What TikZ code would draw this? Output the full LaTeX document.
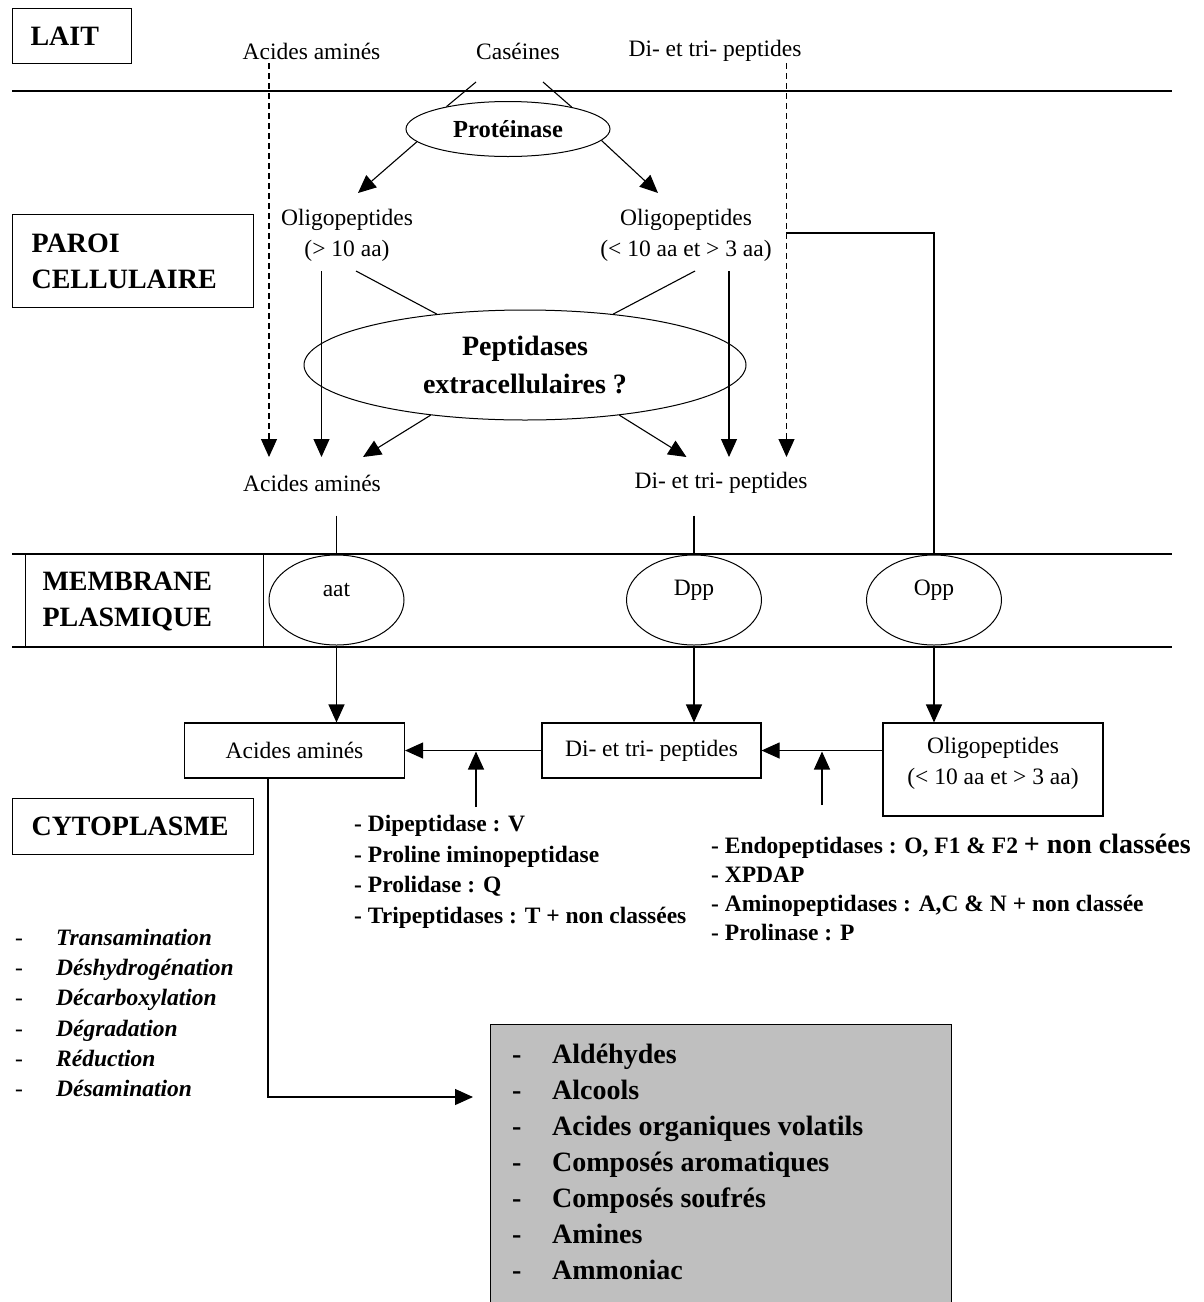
\documentclass[tikz,border=0pt]{standalone}
\usepackage{fontspec}
\setmainfont{Liberation Serif}
\usetikzlibrary{arrows.meta,calc,shapes.geometric}
\colorlet{grisprod}{black!25}
\tikzset{
    trait/.style={line width=1.1pt},
    fl/.style={trait,-{Triangle[length=18pt,width=16pt]}},
    tirets/.style={fl,dash pattern=on 6pt off 4pt},
    etiq/.style={inner sep=0pt,align=center,font=\fontsize{23.5}{31}\selectfont},
    zone/.style={draw,trait,anchor=north west,inner ysep=0pt,align=left,font=\fontsize{28}{36}\selectfont\bfseries},
    enz/.style={draw,ellipse,line width=1pt,inner sep=0pt},
    boite/.style={draw,trait,inner sep=0pt,align=center,font=\fontsize{23.5}{30}\selectfont},
    liste/.style={inner sep=0pt,anchor=north west,align=left}
}

\begin{document}
\begin{tikzpicture}[x=1pt,y=-1pt]
    \useasboundingbox (0,0) rectangle (1203,1302);
    % limites des compartiments
    \draw[trait] (12,91) -- (1172,91);
    \draw[trait] (12,554) -- (1172,554);
    \draw[trait] (12,647) -- (1172,647);

    \node[zone,text width=83pt,inner xsep=18pt,minimum height=55pt] (lait) at (12,8) {LAIT};
    \node[zone,text width=203pt,inner xsep=19pt,minimum height=93pt] (paroi) at (12,214) {PAROI\\CELLULAIRE};
    \node[zone,text width=204pt,inner xsep=17pt,minimum height=93pt] (membr) at (25,554) {MEMBRANE\\PLASMIQUE};
    \node[zone,text width=203pt,inner xsep=19pt,minimum height=56pt] (cyto) at (12,798) {CYTOPLASME};

    % lait
    \node[etiq] (aaTop) at (311.5,51) {Acides aminés};
    \node[etiq] (casTop) at (518,51) {Caséines};
    \node[etiq] (dtTop) at (715,51) {Di- et tri- peptides};

    % paroi
    \node[enz,minimum width=204pt,minimum height=55pt,font=\fontsize{24.5}{28}\selectfont\bfseries] (prot) at (508,129) {Protéinase};
    \node[etiq] (oligoA) at (347,235) {Oligopeptides\\(> 10 aa)};
    \node[etiq] (oligoB) at (686,235) {Oligopeptides\\(< 10 aa et > 3 aa)};
    \node[enz,minimum width=442pt,minimum height=110pt,align=center,font=\fontsize{28}{38}\selectfont\bfseries] (pept) at (525,365) {Peptidases\\extracellulaires ?};
    \node[etiq] (aaMid) at (312,483) {Acides aminés};
    \node[etiq] (dtMid) at (721,483) {Di- et tri- peptides};

    \draw[trait] ($(casTop)+(-42,31)$) -- (prot.160);
    \draw[trait] ($(casTop)+(25,31)$) -- (prot.19);
    \draw[fl] (prot.188) -- ($(oligoA)+(11,-42)$);
    \draw[fl] (prot.353) -- ($(oligoB)+(-28,-42)$);
    \draw[trait] ($(oligoA)+(9,36)$) -- (pept.150);
    \draw[trait] ($(oligoB)+(9,36)$) -- (pept.30);
    \draw[tirets] ($(aaTop)+(-42.5,12)$) -- ($(aaMid)+(-43,-26)$);
    \draw[fl] ($(oligoA)+(-25.5,36)$) -- ($(aaMid)+(9.5,-26)$);
    \draw[fl] (pept.208) -- ($(aaMid)+(51,-26)$);
    \draw[fl] (pept.332) -- ($(dtMid)+(-34.5,-26)$);
    \draw[fl] ($(oligoB)+(43,36)$) -- ($(dtMid)+(8,-26)$);
    \draw[tirets] ($(dtTop)+(71.5,12)$) -- ($(dtMid)+(65.5,-26)$);

    % membrane
    \node[enz,minimum width=135pt,minimum height=90pt,label={[etiq,yshift=10pt]center:aat}] (aat) at (336.5,600) {};
    \node[enz,minimum width=135pt,minimum height=90pt,label={[etiq,yshift=10pt]center:Dpp}] (dpp) at (694,600) {};
    \node[enz,minimum width=135pt,minimum height=90pt,label={[etiq,yshift=10pt]center:Opp}] (opp) at (934,600) {};
    \draw[trait] ($(aat.north)+(0,-39)$) -- (aat.north);
    \draw[trait] ($(dpp.north)+(0,-39)$) -- (dpp.north);
    \draw[trait] ($(oligoB)+(100,-2)$) -| (opp.north);

    % cytoplasme
    \node[boite,minimum width=220pt,minimum height=55pt] (aaBox) at (294.5,750.5) {Acides aminés};
    \node[boite,minimum width=219pt,minimum height=55pt] (dtBox) at (651.5,750.5) {Di- et tri- peptides};
    \node[boite,minimum width=220pt,minimum height=93pt,label={[etiq,yshift=6.5pt]center:{Oligopeptides\\(< 10 aa et > 3 aa)}}] (oligoBox) at (993,769.5) {};
    \draw[fl] (aat.south) -- (aat.south |- aaBox.north);
    \draw[fl] (dpp.south) -- (dpp.south |- dtBox.north);
    \draw[fl] (opp.south) -- (opp.south |- oligoBox.north);
    \draw[fl] (dtBox.west) -- coordinate[pos=0.48] (catA) (aaBox.east);
    \draw[fl] (oligoBox.west |- dtBox.east) -- coordinate[pos=0.5] (catB) (dtBox.east);

    \node[liste,font=\fontsize{23.5}{30.5}\selectfont\bfseries] (enzA) at (354,815) {- Dipeptidase : V\\- Proline iminopeptidase\\- Prolidase : Q\\- Tripeptidases : T + non classées};
    \node[liste,font=\fontsize{23.5}{29}\selectfont\bfseries] (enzB) at (711,834) {- Endopeptidases : O, F1 \& F2 {\fontsize{28}{29}\selectfont + non classées}\\- XPDAP\\- Aminopeptidases : A,C \& N + non classée\\- Prolinase : P};
    \draw[fl] ($(enzA.north -| catA)+(0,-8)$) -- ($(catA)+(0,1)$);
    \draw[fl] ($(enzB.north -| catB)+(0,-29)$) -- ($(catB)+(0,1)$);

    \node[liste,font=\fontsize{23.5}{30.2}\selectfont\bfseries\itshape] (reac) at (15,929) {%
        \makebox[41pt][l]{\upshape\mdseries -}Transamination\\
        \makebox[41pt][l]{\upshape\mdseries -}Déshydrogénation\\
        \makebox[41pt][l]{\upshape\mdseries -}Décarboxylation\\
        \makebox[41pt][l]{\upshape\mdseries -}Dégradation\\
        \makebox[41pt][l]{\upshape\mdseries -}Réduction\\
        \makebox[41pt][l]{\upshape\mdseries -}Désamination};

    % produits
    \node[draw,trait,fill=grisprod,anchor=north west,minimum width=461pt,minimum height=300pt,inner sep=0pt] (prodBox) at (490,1024) {};
    \node[liste,font=\fontsize{28}{36}\selectfont\bfseries] (prodList) at (512,1043.5) {%
        \makebox[40pt][l]{-}Aldéhydes\\
        \makebox[40pt][l]{-}Alcools\\
        \makebox[40pt][l]{-}Acides organiques volatils\\
        \makebox[40pt][l]{-}Composés aromatiques\\
        \makebox[40pt][l]{-}Composés soufrés\\
        \makebox[40pt][l]{-}Amines\\
        \makebox[40pt][l]{-}Ammoniac};
    \draw[fl] ([xshift=-26.5pt]aaBox.south) |- ($(prodBox.north west)+(-17,73)$);
\end{tikzpicture}
\end{document}
